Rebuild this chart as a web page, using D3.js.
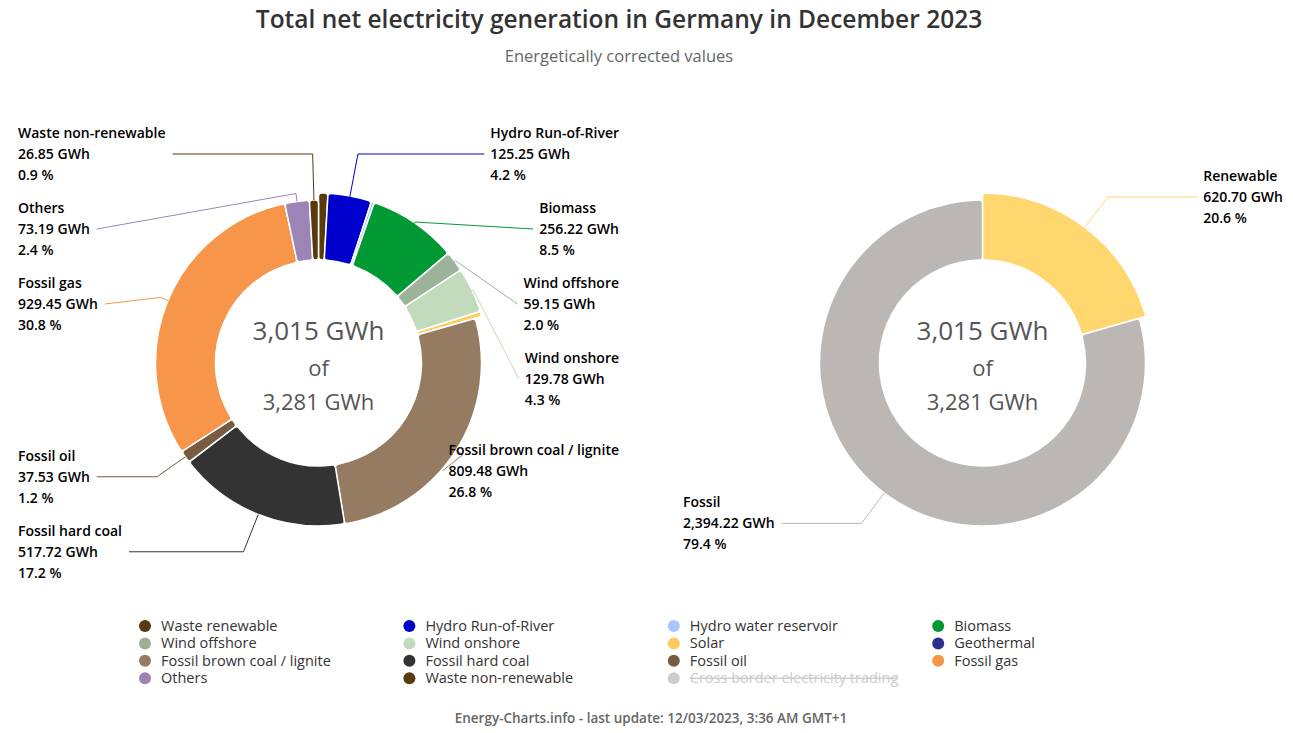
<!DOCTYPE html>
<html>
<head>
<meta charset="utf-8">
<script src="https://cdn.jsdelivr.net/npm/d3@7"></script>
<style>
  body { margin: 0; background: #fff; font-family: "Open Sans", sans-serif; }
</style>
</head>
<body>
<div id="chart"></div>
<script>
// net generation by source, Germany, December 2023 (GWh)
var categories = ["Waste renewable", "Hydro Run-of-River", "Hydro water reservoir", "Biomass",
    "Wind offshore", "Wind onshore", "Solar", "Geothermal", "Fossil brown coal / lignite",
    "Fossil hard coal", "Fossil oil", "Fossil gas", "Others", "Waste non-renewable"];
var values = [26.85, 125.25, 8.5, 256.22, 59.15, 129.78, 14.6, 0.35, 809.48,
    517.72, 37.53, 929.45, 73.19, 26.85];
var groups = ["Renewable", "Renewable", "Renewable", "Renewable", "Renewable", "Renewable",
    "Renewable", "Renewable", "Fossil", "Fossil", "Fossil", "Fossil", "Fossil", "Fossil"];
var colors = ["#573b0f", "#0000cc", "#a8c5ff", "#009933", "#9cb39a", "#c3dbbd", "#ffcc5c",
    "#2b2f8f", "#957b61", "#333333", "#785c42", "#f7964a", "#9d84b7", "#573b0f"];
var showLabel = [false, true, false, true, true, true, false, false, true, true, true, true, true, true];

// hidden series, only counted in the grand total
var crossBorderName = "Cross border electricity trading";
var crossBorderValue = 266;
var crossBorderColor = "#cccccc";

// right donut
var sumNames = ["Renewable", "Fossil"];
var sumValues = [620.70, 2394.22];
var sumColors = ["#ffd76e", "#bab7b4"];

// group the mouse is over in the screenshot
var hoverGroup = "Renewable";

function main() {
    var W = 1293, H = 733;
    var r = 163, ri = 103, rHover = 170;
    var cy = 363;
    var fmtVal = d3.format(",.2f"), fmtPct = d3.format(".1f"), fmtTot = d3.format(",.0f");

    var svg = d3.select("#chart").append("svg")
        .attr("width", W).attr("height", H);

    svg.append("text")
        .attr("x", 619).attr("y", 28)
        .attr("text-anchor", "middle")
        .style("font-size", "24.5px").style("font-weight", 600).style("fill", "#333")
        .text("Total net electricity generation in Germany in December 2023");
    svg.append("text")
        .attr("x", 619).attr("y", 62)
        .attr("text-anchor", "middle")
        .style("font-size", "16.5px").style("fill", "#666")
        .text("Energetically corrected values");

    var total = d3.sum(values);
    var grandTotal = total + crossBorderValue;

    var leftData = categories.map(function (c, i) {
        return { name: c, value: values[i], color: colors[i],
                 hover: groups[i] === hoverGroup, label: showLabel[i] };
    });
    var rightData = sumNames.map(function (c, i) {
        return { name: c, value: sumValues[i], color: sumColors[i],
                 hover: c === hoverGroup, label: true };
    });

    donut(leftData, 318.5, 18, 619);
    donut(rightData, 982.5, 683, 1283);

    function donut(data, cx, leftEdge, rightEdge) {
        var arcs = d3.pie().sort(null).value(function (d) { return d.value; })(data);
        var sum = d3.sum(data, function (d) { return d.value; });
        var outer = function (d) { return d.data.hover ? rHover : r; };
        var arc = d3.arc()
            .innerRadius(ri)
            .outerRadius(outer)
            .cornerRadius(3);

        var g = svg.append("g");
        g.append("g")
            .attr("transform", "translate(" + cx + "," + cy + ")")
            .selectAll("path")
            .data(arcs)
            .enter()
            .append("path")
            .attr("d", arc)
            .style("fill", function (d) { return d.data.color; })
            .style("stroke", "#fff")
            .style("stroke-width", 1.5);

        // center text
        var mid = g.append("g").style("fill", "#555").attr("text-anchor", "middle");
        mid.append("text").attr("x", cx).attr("y", 331).attr("dy", "0.35em")
            .style("font-size", "26px").text(fmtTot(total) + " GWh");
        mid.append("text").attr("x", cx).attr("y", 368).attr("dy", "0.35em")
            .style("font-size", "22px").text("of");
        mid.append("text").attr("x", cx).attr("y", 402).attr("dy", "0.35em")
            .style("font-size", "22px").text(fmtTot(grandTotal) + " GWh");

        // data labels
        var items = arcs.filter(function (d) { return d.data.label; }).map(function (d) {
            var a = (d.startAngle + d.endAngle) / 2;
            return { arc: d, a: a, right: Math.sin(a) >= 0,
                     natural: cy - (outer(d) + 38) * Math.cos(a) };
        });
        spread(items.filter(function (d) { return d.right; }), 75, 154);
        spread(items.filter(function (d) { return !d.right; }), 75, 154);

        var conn = g.append("g").style("fill", "none").style("stroke-width", 1);
        var labs = g.append("g").style("font-size", "14px").style("font-weight", 600).style("fill", "#000");

        items.forEach(function (it) {
            var d = it.arc;
            var t = labs.append("text");
            var lines = [d.data.name, fmtVal(d.data.value) + " GWh",
                         fmtPct(d.data.value / sum * 100) + " %"];
            var spans = lines.map(function (s, k) {
                return t.append("tspan").attr("y", it.y + (k - 1) * 21).attr("dy", "0.35em").text(s);
            });
            var w = d3.max(spans, function (s) { return s.node().getComputedTextLength(); });
            var x0 = it.right ? rightEdge - w : leftEdge;
            spans.forEach(function (s) { s.attr("x", x0); });

            // crooked connector
            var lx = it.right ? x0 - 6 : x0 + w + 7;
            var sa = Math.sin(it.a), ca = Math.cos(it.a);
            var bx = cx + sa * (r + 8), by = cy - ca * (r + 8);
            var tx = cx + sa * r, ty = cy - ca * r;
            var crookX = cx + (cy - it.y) * Math.tan(it.a);
            var pts = [[lx, it.y]];
            var ok = it.right ? (crookX <= lx && crookX >= bx) : (crookX >= lx && crookX <= bx);
            if (ok) pts.push([crookX, it.y]);
            pts.push([bx, by], [tx, ty]);
            conn.append("path")
                .attr("d", d3.line()(pts))
                .style("stroke", d.data.color);
        });
    }

    function spread(items, gap, yMin) {
        items.sort(function (a, b) { return a.natural - b.natural; });
        var clusters = items.map(function (d) { return { items: [d] }; });
        function place(c) {
            var n = c.items.length;
            var mean = d3.mean(c.items, function (d) { return d.natural; });
            c.top = Math.max(yMin, mean - (n - 1) * gap / 2);
        }
        clusters.forEach(place);
        var merged = true;
        while (merged) {
            merged = false;
            for (var i = 1; i < clusters.length; i++) {
                var p = clusters[i - 1], c = clusters[i];
                if (p.top + p.items.length * gap > c.top) {
                    p.items = p.items.concat(c.items);
                    clusters.splice(i, 1);
                    place(p);
                    merged = true;
                    break;
                }
            }
        }
        clusters.forEach(function (c) {
            c.items.forEach(function (d, k) { d.y = c.top + k * gap; });
        });
    }

    // legend
    var legendItems = categories.map(function (c, i) {
        return { name: c, color: colors[i], hidden: false };
    });
    legendItems.push({ name: crossBorderName, color: crossBorderColor, hidden: true });

    var leg = svg.append("g")
        .selectAll("g")
        .data(legendItems)
        .enter()
        .append("g")
        .attr("transform", function (d, i) {
            return "translate(" + (145 + (i % 4) * 264.4) + "," + (626 + Math.floor(i / 4) * 17.4) + ")";
        });
    leg.append("circle")
        .attr("r", 6)
        .style("fill", function (d) { return d.hidden ? "#ccc" : d.color; });
    leg.append("text")
        .attr("x", 16).attr("dy", "0.35em")
        .style("font-size", "14.5px").style("font-weight", 500)
        .style("fill", function (d) { return d.hidden ? "#ccc" : "#333"; })
        .style("text-decoration", function (d) { return d.hidden ? "line-through" : null; })
        .text(function (d) { return d.name; });

    svg.append("text")
        .attr("x", 651).attr("y", 718).attr("dy", "0.35em")
        .attr("text-anchor", "middle")
        .style("font-size", "13.5px").style("font-weight", 600).style("fill", "#666")
        .text("Energy-Charts.info - last update: 12/03/2023, 3:36 AM GMT+1");
}

main();
</script>
</body>
</html>
